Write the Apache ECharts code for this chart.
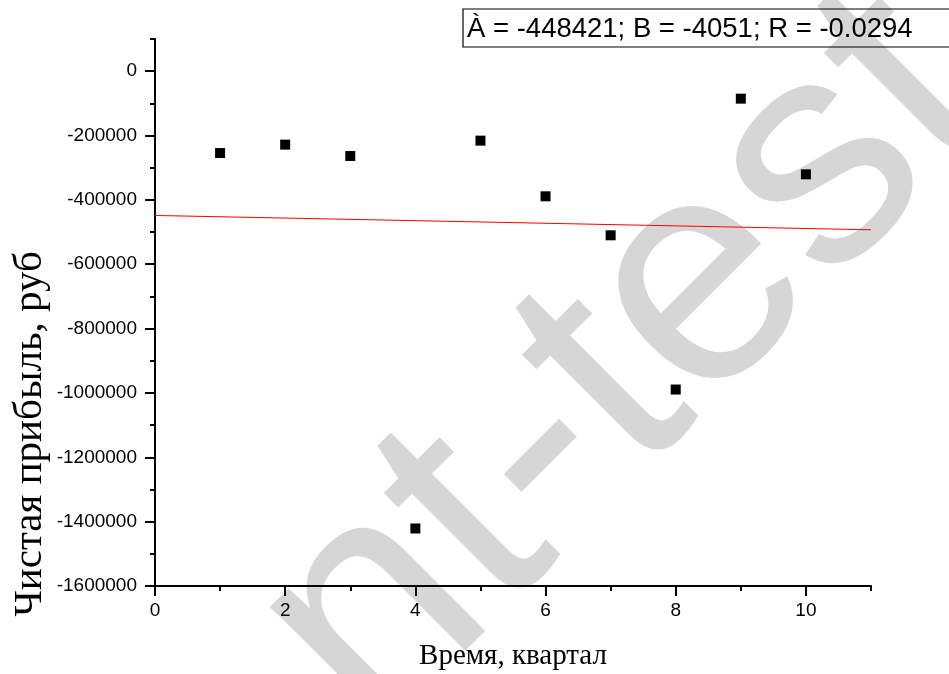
<!DOCTYPE html>
<html>
<head>
<meta charset="utf-8">
<script src="https://cdn.jsdelivr.net/npm/echarts@6/dist/echarts.min.js"></script>
<style>
  html, body { margin: 0; padding: 0; background: #fff; }
  #graph { width: 949px; height: 674px; }
</style>
</head>
<body>
<div id="graph"></div>
<script>
// quarter number and net profit (rub)
var quarters = [1, 2, 3, 4, 5, 6, 7, 8, 9, 10]
var profit = [-254400, -228300, -263700, -1421200, -215900, -388900, -510100, -989400, -85400, -320600]

// linear fit, end points of the red line
var fitX = [0, 11]
var fitY = [-448421, -492982]

// tick labels
var xLabels = [0, 2, 4, 6, 8, 10]
var yLabels = [-1600000, -1400000, -1200000, -1000000, -800000, -600000, -400000, -200000, 0]

var fitText = 'À = -448421; B = -4051; R = -0.0294'
var xName = 'Время, квартал'
var yName = 'Чистая прибыль, руб'
var watermark = 'nt-test'

var sans = '"Liberation Sans", Arial, sans-serif'
var serif = '"Liberation Serif", "Times New Roman", serif'

function makeGraph() {
    var chart = echarts.init(document.getElementById('graph'))

    var points = []
    for (var i in quarters) {
        points.push([quarters[i], profit[i]])
    }
    var fitLine = []
    for (var j in fitX) {
        fitLine.push([fitX[j], fitY[j]])
    }

    var axisLine = { show: true, onZero: false, lineStyle: { color: '#000', width: 2 } }
    var noLine = { show: false, onZero: false }

    var option = {
        animation: false,
        backgroundColor: '#fff',
        grid: { left: 155, top: 39, right: 78, bottom: 88 },
        xAxis: [
            {
                type: 'value', min: 0, max: 11, interval: 1,
                axisLine: axisLine,
                axisTick: { show: true, inside: false, length: 5, lineStyle: { color: '#000', width: 2 } },
                axisLabel: {
                    customValues: xLabels, margin: 15,
                    fontFamily: sans, fontSize: 19, color: '#000'
                },
                splitLine: { show: false }
            },
            {
                // long ticks at labelled values
                type: 'value', min: 0, max: 11, position: 'bottom',
                axisLine: noLine,
                axisTick: { show: true, customValues: xLabels, length: 10, lineStyle: { color: '#000', width: 2 } },
                axisLabel: { show: false },
                splitLine: { show: false }
            }
        ],
        yAxis: [
            {
                type: 'value', min: -1600000, max: 100000, interval: 100000,
                axisLine: axisLine,
                axisTick: { show: true, inside: false, length: 5, lineStyle: { color: '#000', width: 2 } },
                axisLabel: {
                    customValues: yLabels, margin: 18,
                    fontFamily: sans, fontSize: 19, color: '#000',
                    formatter: function (v) { return String(v) }
                },
                splitLine: { show: false }
            },
            {
                type: 'value', min: -1600000, max: 100000, position: 'left',
                axisLine: noLine,
                axisTick: { show: true, customValues: yLabels, length: 10, lineStyle: { color: '#000', width: 2 } },
                axisLabel: { show: false },
                splitLine: { show: false }
            }
        ],
        graphic: [
            {
                type: 'text', z: -10, silent: true,
                x: 626, y: 365, rotation: Math.PI / 4,
                style: {
                    text: watermark, fill: '#d6d6d6',
                    font: '320px ' + sans, align: 'center', verticalAlign: 'middle'
                }
            },
            {
                type: 'rect', z: 10,
                shape: { x: 463, y: 9, width: 520, height: 38 },
                style: { fill: 'none', stroke: '#000', lineWidth: 1.2 }
            },
            {
                type: 'text', z: 10,
                x: 467, y: 29,
                style: { text: fitText, fill: '#000', font: '27.5px ' + sans, verticalAlign: 'middle' }
            },
            {
                type: 'text', z: 10,
                x: 513, y: 656,
                style: { text: xName, fill: '#000', font: '29px ' + serif, align: 'center', verticalAlign: 'middle' }
            },
            {
                type: 'text', z: 10,
                x: 30, y: 434, rotation: Math.PI / 2,
                style: { text: yName, fill: '#000', font: '41px ' + serif, align: 'center', verticalAlign: 'middle' }
            }
        ],
        series: [
            {
                name: 'fit', type: 'line', data: fitLine,
                symbol: 'none', lineStyle: { color: '#ff0000', width: 1 }, z: 3
            },
            {
                name: 'profit', type: 'scatter', data: points,
                symbol: 'rect', symbolSize: 10, itemStyle: { color: '#000', opacity: 1 }, z: 4
            }
        ]
    }
    chart.setOption(option)
}

makeGraph()
</script>
</body>
</html>
